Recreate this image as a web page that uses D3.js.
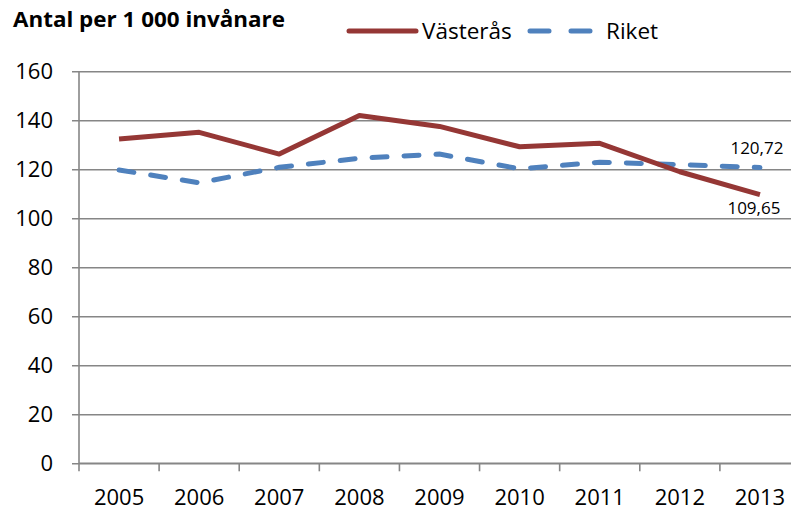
<!DOCTYPE html>
<html>
<head>
<meta charset="utf-8">
<script src="https://cdn.jsdelivr.net/npm/d3@7"></script>
<style>
  body { margin: 0; background: #fff; }
  svg { font-family: "Open Sans", Lato, sans-serif; }
</style>
</head>
<body>
<svg id="chart" width="791" height="510"></svg>
<script>
// data
var years = ["2005", "2006", "2007", "2008", "2009", "2010", "2011", "2012", "2013"];
var vasteras = [132.4, 135.1, 126.2, 142.0, 137.5, 129.2, 130.6, 119.0, 109.65];
var riket = [119.7, 114.5, 120.8, 124.5, 126.2, 120.2, 122.9, 121.9, 120.72];
var yTicks = [0, 20, 40, 60, 80, 100, 120, 140, 160];

(function() {
var svg = d3.select("#chart");
var plotL = 79, plotR = 800, plotT = 71.3, plotB = 463.3;

var x = d3.scaleBand().domain(years).range([plotL, plotR]);
var y = d3.scaleLinear().domain([0, 160]).range([plotB, plotT]);
var cx = function(d, i) { return x(years[i]) + x.bandwidth() / 2; };

var gridColor = "#868686";

// horizontal gridlines + y ticks
var yAxis = svg.append("g")
  .attr("transform", "translate(" + plotL + ",0)")
  .call(d3.axisLeft(y).tickValues(yTicks).tickSize(-(plotR - plotL)).tickSizeOuter(0).tickPadding(26));
yAxis.select(".domain").remove();
yAxis.selectAll(".tick line")
  .attr("x1", -7)
  .attr("stroke", gridColor).attr("stroke-width", 1.6);
yAxis.selectAll(".tick text")
  .attr("fill", "#000").attr("font-size", "22px")
  .style("font-family", "'Open Sans', sans-serif");

// vertical axis line
svg.append("line")
  .attr("x1", plotL).attr("x2", plotL)
  .attr("y1", plotT).attr("y2", plotB)
  .attr("stroke", gridColor).attr("stroke-width", 1.6);

// x axis: ticks between categories
var xAxis = svg.append("g")
  .attr("transform", "translate(0," + plotB + ")");
xAxis.append("line")
  .attr("x1", plotL).attr("x2", plotR)
  .attr("stroke", gridColor).attr("stroke-width", 1.6);
xAxis.selectAll("line.tk")
  .data(years)
  .enter().append("line")
  .attr("class", "tk")
  .attr("x1", function(d) { return x(d); })
  .attr("x2", function(d) { return x(d); })
  .attr("y1", 0).attr("y2", 8)
  .attr("stroke", gridColor).attr("stroke-width", 1.6);
xAxis.selectAll("text")
  .data(years)
  .enter().append("text")
  .attr("x", function(d) { return x(d) + x.bandwidth() / 2; })
  .attr("y", 42)
  .attr("text-anchor", "middle")
  .attr("font-size", "22px")
  .text(function(d) { return d; });

var line = d3.line()
  .x(cx)
  .y(function(d) { return y(d); });

svg.append("path")
  .datum(riket)
  .attr("d", line)
  .attr("fill", "none")
  .attr("stroke", "#4F81BD")
  .attr("stroke-width", 5)
  .attr("stroke-linecap", "round")
  .attr("stroke-dasharray", "15,17");

svg.append("path")
  .datum(vasteras)
  .attr("d", line)
  .attr("fill", "none")
  .attr("stroke", "#953735")
  .attr("stroke-width", 5)
  .attr("stroke-linejoin", "round");

// end value labels
var last = years.length - 1;
var fmt = function(v) { return d3.format(".2f")(v).replace(".", ","); };
svg.append("text")
  .attr("x", cx(null, last) - 3)
  .attr("y", y(riket[last]) - 14)
  .attr("text-anchor", "middle")
  .attr("font-size", "17px")
  .text(fmt(riket[last]));
svg.append("text")
  .attr("x", cx(null, last) - 6)
  .attr("y", y(vasteras[last]) + 19)
  .attr("text-anchor", "middle")
  .attr("font-size", "17px")
  .text(fmt(vasteras[last]));

// title
svg.append("text")
  .attr("x", 13).attr("y", 27)
  .attr("font-size", "21.5px")
  .attr("font-weight", "bold")
  .attr("textLength", 272)
  .attr("lengthAdjust", "spacingAndGlyphs")
  .text("Antal per 1 000 invånare");

// legend
var lg = svg.append("g");
lg.append("line")
  .attr("x1", 349).attr("x2", 416).attr("y1", 31).attr("y2", 31)
  .attr("stroke", "#953735").attr("stroke-width", 5).attr("stroke-linecap", "round");
lg.append("text")
  .attr("x", 422).attr("y", 39)
  .attr("font-size", "22.5px")
  .text("Västerås");
lg.append("line")
  .attr("x1", 530).attr("x2", 592).attr("y1", 31).attr("y2", 31)
  .attr("stroke", "#4F81BD").attr("stroke-width", 5).attr("stroke-linecap", "round")
  .attr("stroke-dasharray", "19,22");
lg.append("text")
  .attr("x", 606).attr("y", 39)
  .attr("font-size", "22.5px")
  .text("Riket");
})();
</script>
</body>
</html>
